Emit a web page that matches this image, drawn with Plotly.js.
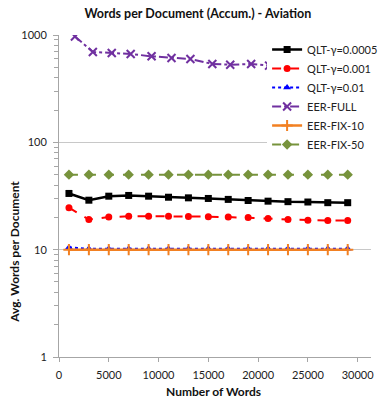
<!DOCTYPE html>
<html><head><meta charset="utf-8">
<script src="https://cdn.plot.ly/plotly-3.0.1.min.js"></script>
<style>html,body{margin:0;padding:0;background:#fff}#chart{width:385px;height:405px}</style>
</head><body><div id="chart"></div>
<script>
// Data
const wordsQLT = [1000,3000,5000,7000,9000,11000,13000,15000,17000,19000,21000,23000,25000,27000,29000];
const wordsEER = [1600,3400,5300,7200,9300,11300,13200,15400,17200,19300,21100,23100,25100,27100,29100];
const qlt00005 = [33.4,28.9,31.5,32.0,31.5,30.8,30.4,30.0,29.4,28.7,28.3,28.0,27.8,27.4,27.4];
const qlt0001  = [24.6,19.1,20.1,20.5,20.5,20.5,20.4,20.3,20.1,19.9,19.5,19.1,18.8,18.7,18.7];
const qlt001   = [10.5,10.2,10.2,10.2,10.2,10.2,10.2,10.2,10.2,10.2,10.2,10.2,10.2,10.2,10.2];
const eerFull  = [970,695,680,666,633,611,598,537,529,537,518,518,510,505,500];
const eerFix10 = [10,10,10,10,10,10,10,10,10,10,10,10,10,10,10];
const eerFix50 = [50,50,50,50,50,50,50,50,50,50,50,50,50,50,50];
const names = ["QLT-\u03b3=0.0005","QLT-\u03b3=0.001","QLT-\u03b3=0.01","EER-FULL","EER-FIX-10","EER-FIX-50"];
const xTicks = [0,5000,10000,15000,20000,25000,30000];
const yTicks = [1,10,100,1000];

const FONT = "Lato, 'Open Sans', sans-serif";
const traces = [
  {x:wordsQLT, y:qlt00005, name:names[0], mode:'lines+markers',
   line:{color:'#000000', width:2.5}, marker:{symbol:'square', size:7, color:'#000000'}},
  {x:wordsQLT, y:qlt0001, name:names[1], mode:'lines+markers',
   line:{color:'#ff0000', width:2, dash:'dash'}, marker:{symbol:'circle', size:7, color:'#ff0000'}},
  {x:wordsQLT, y:qlt001, name:names[2], mode:'lines+markers',
   line:{color:'#0000ff', width:2, dash:'dot'}, marker:{symbol:'triangle-up', size:7, color:'#0000ff'}},
  {x:wordsEER, y:eerFull, name:names[3], mode:'lines+markers',
   line:{color:'#7030a0', width:2, dash:'dashdot'}, marker:{symbol:'x-thin', size:8, line:{color:'#7030a0', width:2}, color:'#7030a0'}},
  {x:wordsQLT, y:eerFix10, name:names[4], mode:'lines+markers',
   line:{color:'#f28022', width:2.5}, marker:{symbol:'cross-thin', size:8, line:{color:'#f28022', width:2}, color:'#f28022'}},
  {x:wordsQLT, y:eerFix50, name:names[5], mode:'lines+markers',
   line:{color:'#77933c', width:2, dash:'dash'}, marker:{symbol:'diamond', size:8, color:'#77933c'}}
];

const minorVals = [];
[1,10,100].forEach(d => { for (let k=2;k<=9;k++) minorVals.push(k*d); });

const layout = {
  width:385, height:405,
  margin:{l:59, r:2, t:35, b:48},
  paper_bgcolor:'#ffffff', plot_bgcolor:'#ffffff',
  font:{family:FONT, size:11, color:'#222222'},
  showlegend:true,
  title:{text:'<b>Words per Document (Accum.) - Aviation</b>', font:{family:FONT, size:12.5, color:'#111111'},
         xref:'container', x:0.514, xanchor:'center', yref:'container', y:1-14/405, yanchor:'middle'},
  xaxis:{range:[0,31340], tickvals:xTicks, ticktext:xTicks.map(String), showgrid:false, zeroline:false,
         showline:true, linecolor:'#a6a6a6', linewidth:1, ticks:'outside', ticklen:4, tickcolor:'#a6a6a6',
         ticklabelstandoff:4, tickfont:{family:FONT, size:11, color:'#222222'}},
  yaxis:{type:'log', range:[0,3], tickvals:yTicks, ticktext:yTicks.map(String), showgrid:true, gridcolor:'#c8c8c8',
         zeroline:false, showline:true, linecolor:'#a6a6a6', linewidth:1, ticks:'outside', ticklen:5, tickcolor:'#a6a6a6',
         ticklabelstandoff:4, tickfont:{family:FONT, size:11, color:'#222222'},
         minor:{tickvals:minorVals, ticks:'outside', ticklen:4, tickcolor:'#a6a6a6', showgrid:false}},
  legend:{x:0.667, xanchor:'left', y:1, yanchor:'top', bgcolor:'#ffffff', borderwidth:0,
          font:{family:FONT, size:11, color:'#222222'}, itemwidth:30, tracegroupgap:0},
  annotations:[
    {text:'<b>Avg. Words per Document</b>', xref:'paper', yref:'paper', x:-0.145, xanchor:'center',
     y:(357-252)/322, yanchor:'middle', textangle:-90, showarrow:false, font:{family:FONT, size:12, color:'#111111'}},
    {text:'<b>Number of Words</b>', xref:'paper', yref:'paper', x:(219-59)/324, xanchor:'center',
     y:-(391-357)/322, yanchor:'middle', showarrow:false, font:{family:FONT, size:12, color:'#111111'}}
  ]
};
Plotly.newPlot('chart', traces, layout, {displayModeBar:false, staticPlot:true});
</script></body></html>
